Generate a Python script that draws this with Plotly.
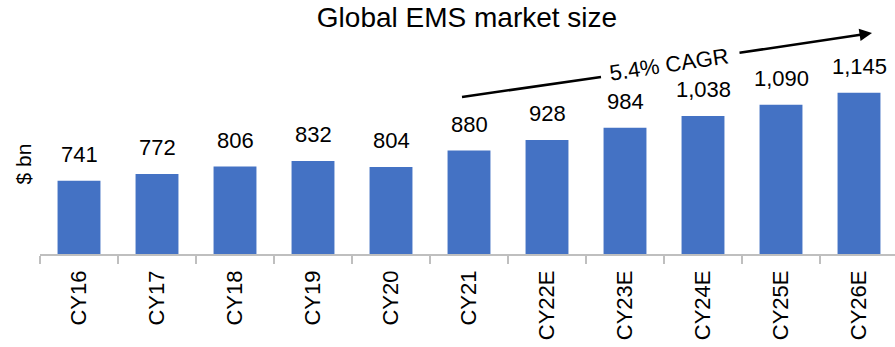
import plotly.graph_objects as go

# Global EMS market size, $ bn
years = ["CY16", "CY17", "CY18", "CY19", "CY20", "CY21",
         "CY22E", "CY23E", "CY24E", "CY25E", "CY26E"]
market_size = [741, 772, 806, 832, 804, 880, 928, 984, 1038, 1090, 1145]
cagr_label = "5.4% CAGR"

FONT = "Liberation Sans, Arial, sans-serif"
BAR_BLUE = "#4472c4"
AXIS_GREY = "#bfbfbf"

W, H = 895, 347
ML, MR, MT, MB = 40, 0, 30, 93
plot_w = W - ML - MR
plot_h = H - MT - MB

y_min = 405
y_max = 1433

fig = go.Figure()
fig.add_trace(go.Bar(
    x=years,
    y=market_size,
    marker=dict(color=BAR_BLUE, line=dict(width=0)),
    hoverinfo="x+y",
))

# value labels above bars
for yr, v in zip(years, market_size):
    fig.add_annotation(
        x=yr, y=v, xref="x", yref="y",
        text=f"{v:,}", showarrow=False,
        yanchor="bottom", yshift=12,
        font=dict(family=FONT, size=22, color="#000000"),
    )


def px(xpix):
    return (xpix - ML) / plot_w


def py(ypix):
    return (H - MB - ypix) / plot_h


# CAGR trend arrow: tail segment, label, head segment
fig.add_shape(
    type="line", xref="paper", yref="paper",
    x0=px(462), y0=py(97), x1=px(601), y1=py(77),
    line=dict(color="#000000", width=2.5),
)
fig.add_annotation(
    xref="paper", yref="paper",
    x=px(872), y=py(33), ax=-134, ay=20,
    showarrow=True, arrowhead=2, arrowsize=1, arrowwidth=2.5,
    arrowcolor="#000000", text="",
)
fig.add_annotation(
    xref="paper", yref="paper",
    x=px(669), y=py(64), text=cagr_label, showarrow=False,
    textangle=-8.5, xanchor="center", yanchor="middle",
    font=dict(family=FONT, size=22, color="#000000"),
)

# unit label
fig.add_annotation(
    xref="paper", yref="paper",
    x=px(22.5), y=py(164), text="$ bn", showarrow=False,
    textangle=-90, xanchor="center", yanchor="middle",
    font=dict(family=FONT, size=21, color="#000000"),
)

fig.update_layout(
    width=W, height=H,
    margin=dict(l=ML, r=MR, t=MT, b=MB),
    paper_bgcolor="#ffffff", plot_bgcolor="#ffffff",
    bargap=0.45,
    showlegend=False,
    title=dict(
        text="Global EMS market size",
        x=467 / W, xanchor="center", xref="container",
        y=1 - 17 / H, yanchor="middle", yref="container",
        font=dict(family=FONT, size=28, color="#000000"),
    ),
    xaxis=dict(
        type="category",
        range=[-0.5, 10.5 - 3 / 78],
        showline=True, linecolor=AXIS_GREY, linewidth=1.5,
        ticks="outside", tickson="boundaries", ticklen=8,
        tickcolor=AXIS_GREY, tickwidth=1.5,
        tickangle=-90,
        ticklabelstandoff=6,
        tickfont=dict(family=FONT, size=22, color="#000000"),
        showgrid=False, zeroline=False,
    ),
    yaxis=dict(
        range=[y_min, y_max],
        visible=False, showgrid=False, zeroline=False,
    ),
)

fig.write_html("out.html")
